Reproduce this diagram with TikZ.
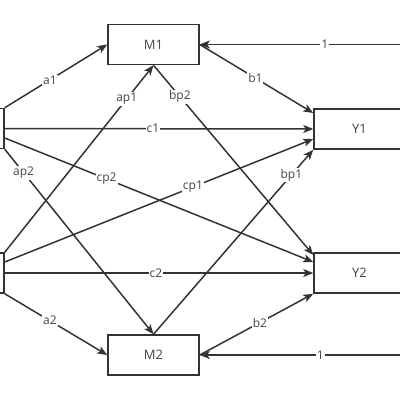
\documentclass[tikz,border=0pt]{standalone}
\usepackage{fontspec}
\setmainfont{Open Sans}
\usetikzlibrary{arrows.meta,calc}
\definecolor{ln}{HTML}{333333}
\definecolor{tx}{HTML}{444444}
\tikzset{
  box/.style={draw=ln,line width=1.5pt,fill=white,minimum width=91pt,minimum height=40pt,inner sep=0pt,text=tx,font=\fontsize{13}{15}\selectfont},
  edge/.style={draw=ln,line width=1.5pt,-{Stealth[length=10pt,width=8pt,inset=2.5pt]}},
  lab/.style={fill=white,text=tx,inner sep=1pt,font=\fontsize{12}{14}\selectfont}
}
\begin{document}
\begin{tikzpicture}[x=1pt,y=-1pt]
\useasboundingbox (0,0) rectangle (400,400);
\clip (0,0) rectangle (400,400);
\node[box] (M1) at (153.5,44.5) {M1};
\node[box] (M2) at (153.5,355) {M2};
\node[box] (X1) at (-41.5,128.5) {};
\node[box] (X2) at (-41.5,273) {};
\node[box] (Y1) at (359.5,129) {Y1};
\node[box] (Y2) at (359.5,273) {Y2};
\coordinate (R1) at (450,44.5);
\coordinate (R2) at (450,355);
% from X1
\draw[edge] (X1.north east) -- node[lab,pos=0.44]{a1} (M1.west);
\draw[edge] (X1.east) -- node[lab,pos=0.48]{c1} (Y1.west);
\draw[edge] ($(X1.east)+(0,9.5)$) -- node[lab,pos=0.33]{cp2} ($(Y2.west)+(0,-11)$);
\draw[edge] (X1.south east) -- node[lab,pos=0.127]{ap2} (M2.north);
% from X2
\draw[edge] (X2.north east) -- node[lab,pos=0.82]{ap1} (M1.south);
\draw[edge] ($(X2.east)+(0,-11)$) -- node[lab,pos=0.61]{cp1} ($(Y1.west)+(0,10)$);
\draw[edge] (X2.east) -- node[lab,pos=0.49]{c2} (Y2.west);
\draw[edge] (X2.south east) -- node[lab,pos=0.44]{a2} (M2.west);
% mediators
\draw[edge] (M1.south) -- node[lab,pos=0.165]{bp2} ($(Y2.west)+(0,-18)$);
\draw[edge] (M1.east) -- node[lab,pos=0.49]{b1} ($(Y1.west)+(0,-16)$);
\draw[edge] (M2.north) -- node[lab,pos=0.863]{bp1} (Y1.south west);
\draw[edge] (M2.east) -- node[lab,pos=0.53]{b2} (Y2.south west);
% ones
\draw[edge] (R1) -- node[lab,pos=0.5]{1} (M1.east);
\draw[edge] (R2) -- node[lab,pos=0.518]{1} (M2.east);
\end{tikzpicture}
\end{document}
